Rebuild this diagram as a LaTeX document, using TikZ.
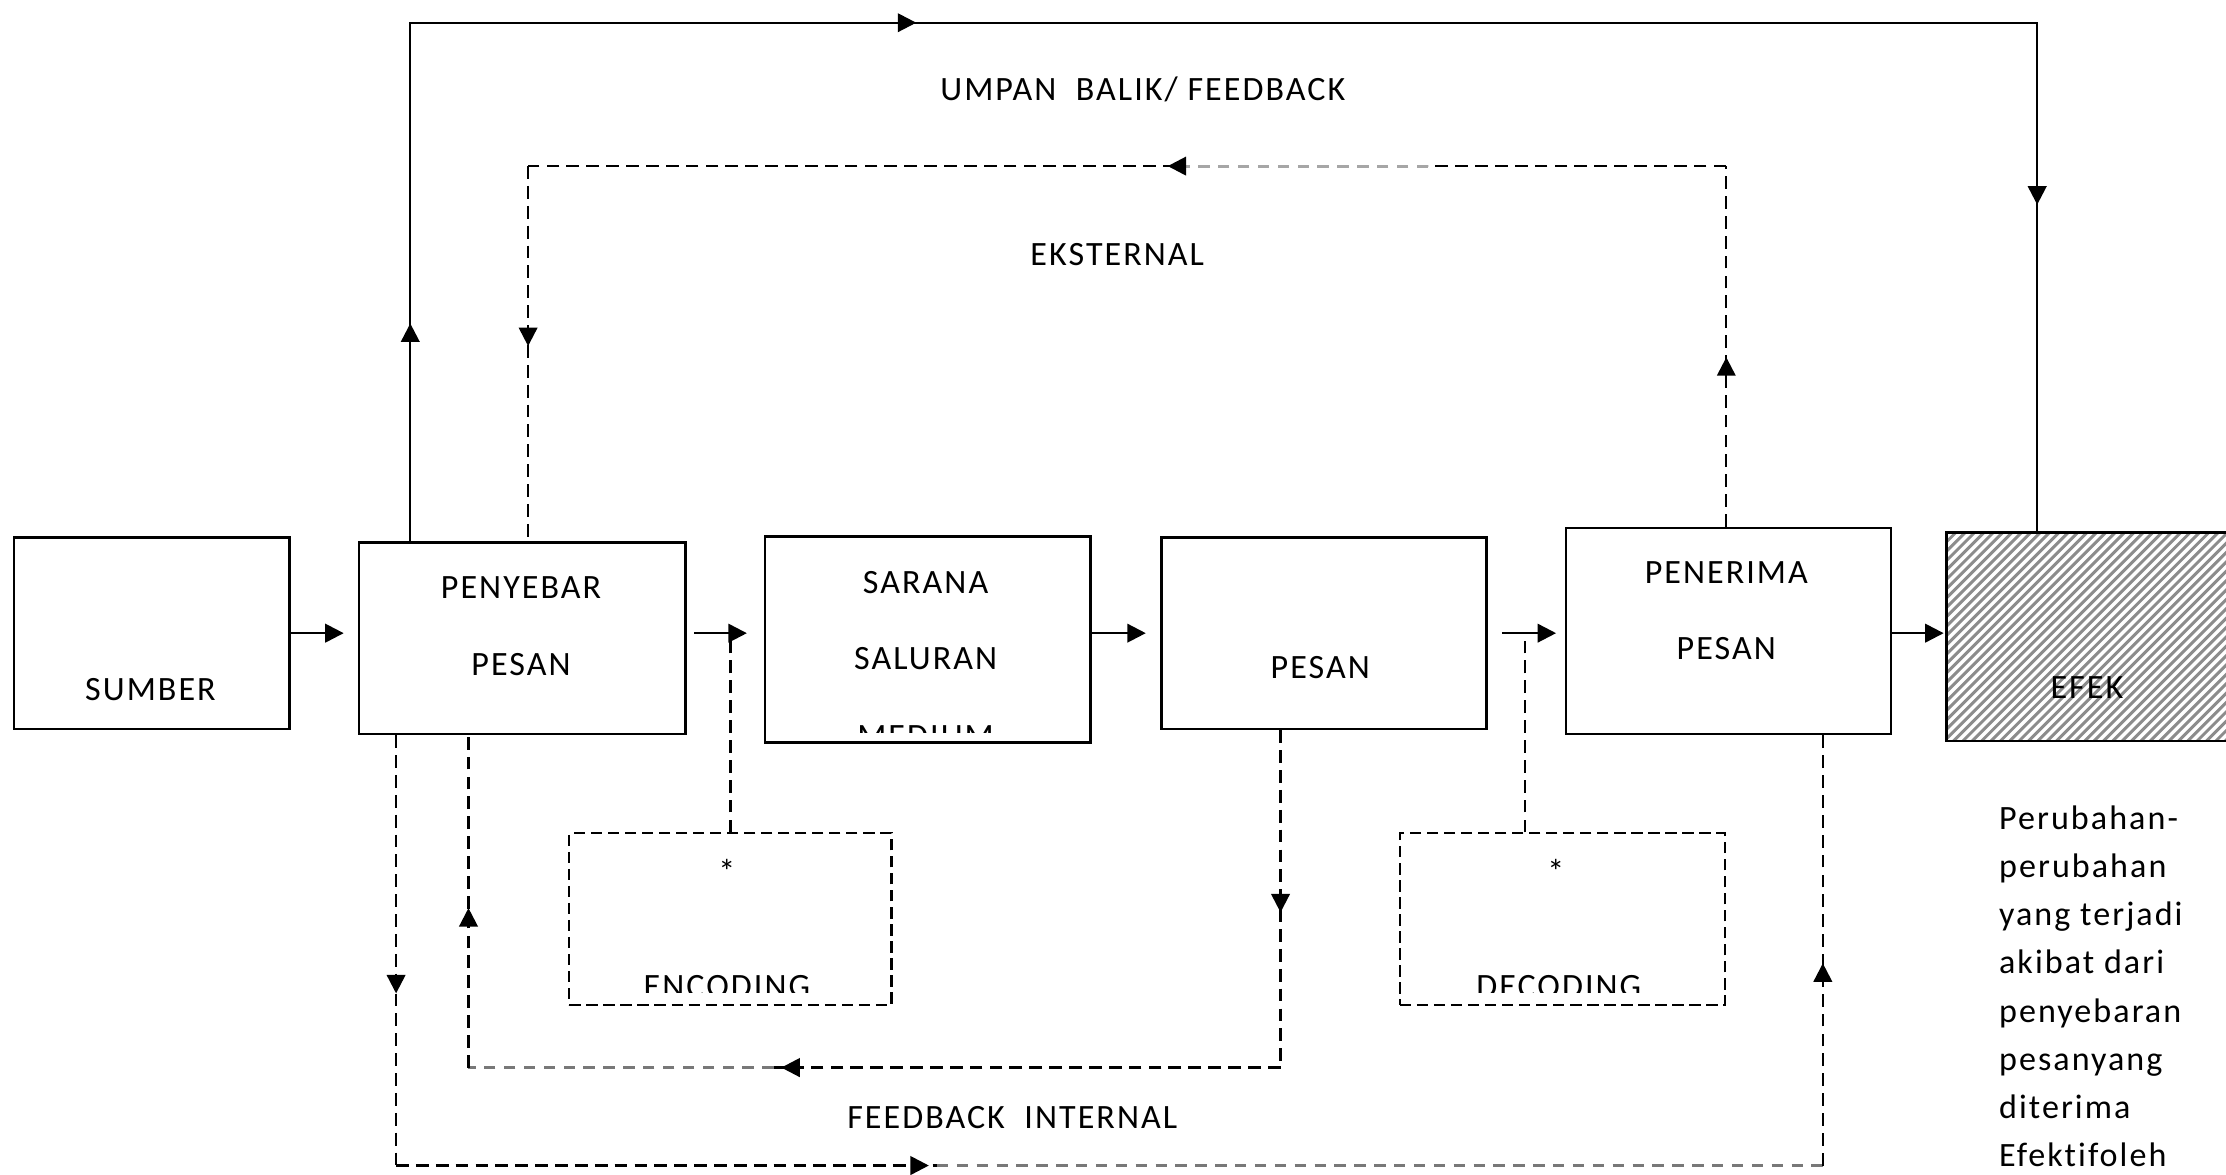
\documentclass[tikz,border=0pt]{standalone}
\usepackage{fontspec}
\setmainfont{Carlito}[LetterSpace=6,Ligatures=NoCommon]
\usetikzlibrary{arrows.meta,decorations.markings}
\definecolor{hatchc}{RGB}{140,140,140}
\definecolor{dgray}{RGB}{120,120,120}
\tikzset{
  >={Triangle[length=13pt,width=13pt]},
  box/.style={draw, line width=1.8pt, inner sep=0pt},
  dbox/.style={draw, line width=1.5pt, dash pattern=on 8pt off 4pt, inner sep=0pt},
  lbl/.style={inner sep=0pt, font=\fontsize{24}{29}\selectfont},
  flow/.style={line width=1.7pt, -{Triangle[length=13pt,width=13pt]}},
  sline/.style={line width=1.7pt},
  vdash/.style={line width=1.6pt, dash pattern=on 9pt off 5pt},
  hdash/.style={line width=1.9pt, dash pattern=on 9pt off 5pt},
  gdash/.style={line width=2.6pt, dash pattern=on 8pt off 6pt, draw=dgray},
  arr/.style={postaction={decorate, decoration={markings, mark=at position #1 with {\arrow{>}}}}},
}
\begin{document}
\begin{tikzpicture}[x=1pt,y=-1pt]
\useasboundingbox (0,0) rectangle (1568,827);

% main boxes
\node[box, minimum width=194pt, minimum height=135pt] (sumber) at (107,446) {};
\node[box, minimum width=230pt, minimum height=135pt] (peny) at (368,449.5) {};
\node[box, minimum width=229pt, minimum height=145pt] (sarana) at (653.5,450.5) {};
\node[box, minimum width=229pt, minimum height=135pt] (pesan) at (932.5,446) {};
\node[box, minimum width=229pt, minimum height=145pt] (peneri) at (1217.5,444.5) {};
\node[box, minimum width=219pt, minimum height=147pt,
  path picture={\foreach \k in {-160,-153.4,...,230}
    \draw[hatchc, line width=2.1pt] ([xshift=\k pt]path picture bounding box.south west) -- ++(200pt,200pt);}
  ] (efek) at (1480.5,448.5) {};

% dashed boxes
\node[dbox, minimum width=227pt, minimum height=121pt] (enc) at (514.5,647.5) {};
\node[dbox, minimum width=229pt, minimum height=121pt] (dec) at (1100.5,647.5) {};

% texts in boxes
\node[lbl] (tsumber) at (106,486) {SUMBER};
\node[lbl] (tpeny1) at (367,414) {PENYEBAR};
\node[lbl] (tpeny2) at (367,468) {PESAN};
\node[lbl] (tsar1) at (652,410) {SARANA};
\node[lbl] (tsar2) at (652,464) {SALURAN};
\begin{scope}
  \clip (540,380) rectangle (767,516);
  \node[lbl] (tsar3) at (652,519) {MEDIUM};
\end{scope}
\node[lbl] (tpesan) at (930,470) {PESAN};
\node[lbl] (tpen1) at (1216,403) {PENERIMA};
\node[lbl] (tpen2) at (1216,457) {PESAN};
\node[lbl] (tefek) at (1470,484) {EFEK};
\node[lbl] (tenc1) at (512,614) {*};
\node[lbl] (tdec1) at (1096,614) {*};
\begin{scope}
  \clip (402,588) rectangle (627,699);
  \node[lbl] (tenc2) at (512,695) {ENCODING};
\end{scope}
\begin{scope}
  \clip (987,588) rectangle (1214,699);
  \node[lbl] (tdec2) at (1098,695) {DECODING};
\end{scope}

% loop labels
\node[lbl] (lumpan) at (805,63) {UMPAN\ \ BALIK/ FEEDBACK};
\node[lbl] (leks) at (787,179) {EKSTERNAL};
\node[lbl] (lint) at (713,787) {FEEDBACK\ \ INTERNAL};

% right side text
\foreach \t [count=\i from 0] in {Perubahan-,perubahan,yang terjadi,akibat dari,penyebaran,pesanyang,diterima,Efektifoleh}
  \node[lbl, anchor=base west] (r\i) at (1408,{584+34*\i}) {\t};

% main flow arrows
\draw[flow, shorten >=10pt] (sumber.east) -- (sumber.east -| peny.west);
\draw[flow, shorten <=5pt, shorten >=12pt] (peny.east |- sumber.east) -- (sumber.east -| sarana.west);
\draw[flow, shorten >=10pt] (sarana.east |- sumber.east) -- (sumber.east -| pesan.west);
\draw[flow, shorten <=10pt, shorten >=6pt] (pesan.east) -- (pesan.east -| peneri.west);
\draw[flow, shorten >=1pt] (peneri.east |- sumber.east) -- (sumber.east -| efek.west);

% encoding / decoding connectors
\coordinate (dtop) at (1074,446);
\draw[vdash] (enc.north) -- (enc.north |- sumber.east);
\draw[vdash] (dtop |- dec.north) -- (dtop);

% top solid loop (umpan balik)
\coordinate (ta) at (289,16);
\coordinate (tb) at (1435,16);
\draw[sline, line join=miter, arr=0.082, arr=0.386, arr=0.877]
  (ta |- peny.north) -- (ta) -- (tb) -- (tb |- efek.north);

% eksternal dashed loop
\coordinate (ea) at (1216,117);
\coordinate (eb) at (1006,117);
\coordinate (ec) at (828,117);
\coordinate (ed) at (372,117);
\draw[vdash, arr=0.47] (ea |- peneri.north) -- (ea);
\draw[hdash] (ea) -- (eb);
\draw[gdash, line width=2pt, draw=gray!70] (eb) -- (ec);
\draw[hdash, arr=0.012] (ec) -- (ed);
\draw[vdash, arr=0.48] (ed) -- (ed |- peny.north);

% internal inner loop
\coordinate (ia) at (902,752);
\coordinate (ib) at (545,752);
\coordinate (ic) at (330,752);
\draw[vdash, arr=0.54] (ia |- pesan.south) -- (ia);
\draw[hdash, arr=0.985] (ia) -- (ib);
\draw[gdash] (ib) -- (ic);
\draw[vdash, arr=0.48] (ic) -- (ic |- peny.south);

% internal outer loop
\coordinate (oa) at (279,821);
\coordinate (ob) at (660,821);
\coordinate (oc) at (1284,821);
\draw[vdash, arr=0.6] (oa |- peny.south) -- (oa);
\draw[hdash, arr=0.985] (oa) -- (ob);
\draw[gdash] (ob) -- (oc);
\draw[vdash, arr=0.47] (oc) -- (oc |- peneri.south);
\end{tikzpicture}
\end{document}
